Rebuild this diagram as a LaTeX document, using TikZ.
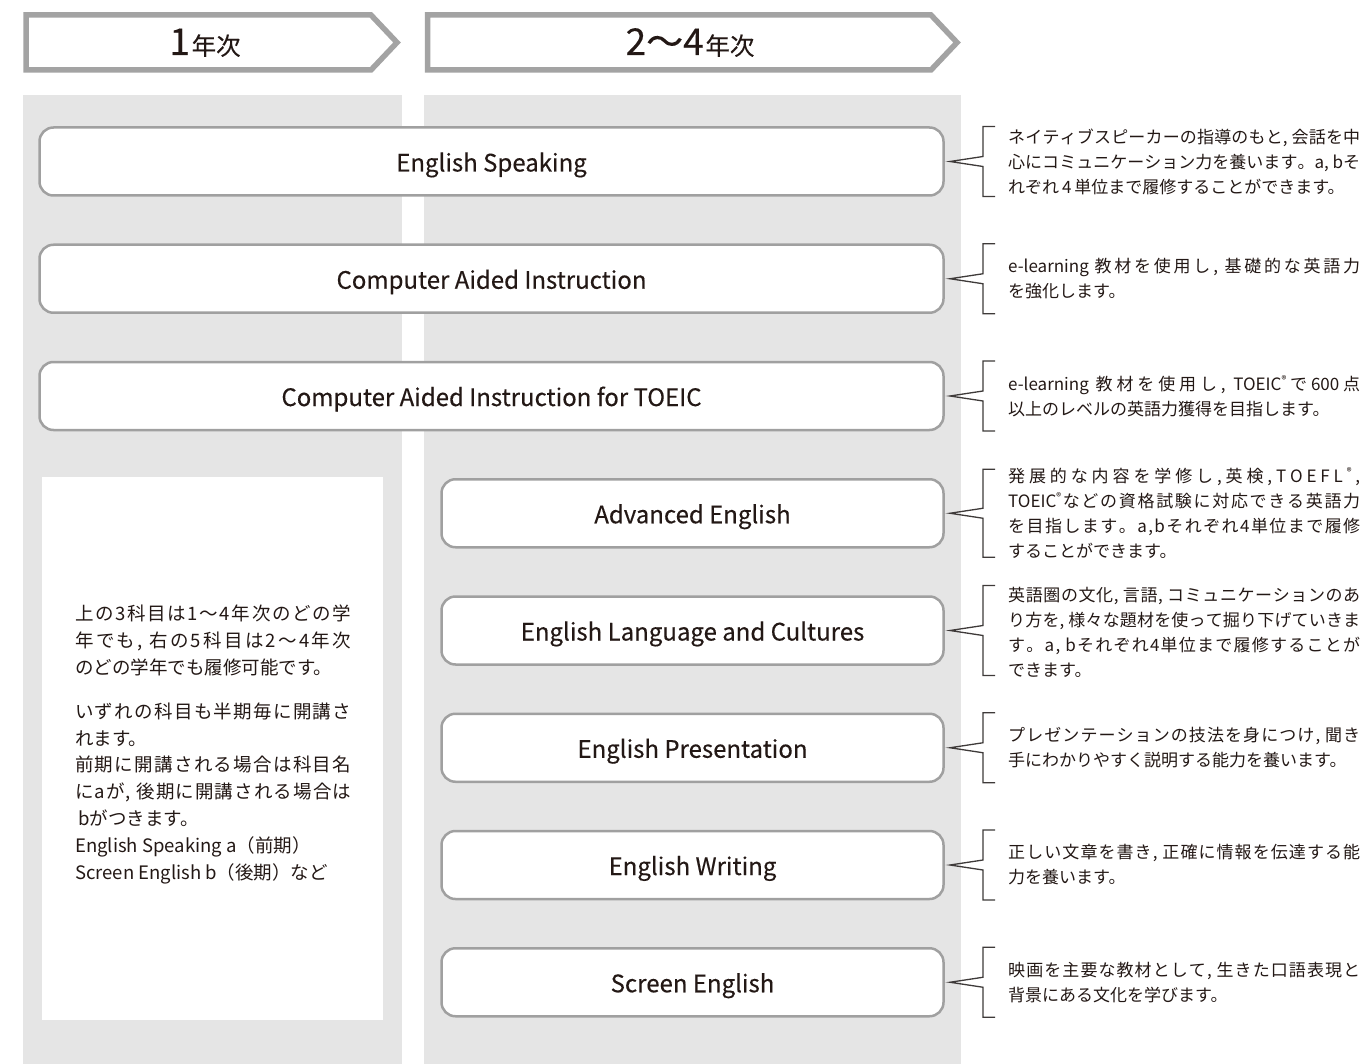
\documentclass[tikz,border=0pt]{standalone}
\usepackage{fontspec}
\setmainfont{Noto Sans CJK JP}
\newfontfamily\lblfont[FakeBold=0.25]{Noto Sans CJK JP}
\usetikzlibrary{calc}
\definecolor{colbg}{HTML}{E5E5E5}
\definecolor{hdrln}{HTML}{A3A3A3}
\definecolor{boxln}{HTML}{A0A0A0}
\definecolor{txt}{HTML}{231815}
\definecolor{brkc}{HTML}{3E3A39}
\makeatletter
\def\spr@end{\spr@end}
\def\spr@loop#1{\ifx\spr@end#1\else\hfil{#1}\expandafter\spr@loop\fi}
\def\spr@first#1{{#1}\spr@loop}
\newcommand\spreadto[2]{\makebox[#1][s]{\spr@first#2\spr@end}}
\makeatother
\newcommand\regmark{\raisebox{0.42em}{\fontsize{10}{10}\selectfont ®}}
\tikzset{
  hdrshape/.style={draw=hdrln, fill=white, line width=5.5pt, line join=miter},
  hdrtext/.style={anchor=base, inner sep=0pt, text=txt},
  cbox/.style={draw=boxln, fill=white, line width=2.5pt, rounded corners=14pt,
    outer sep=0pt, minimum height=68pt, text=txt,
    font=\lblfont\fontsize{24}{28}\selectfont, text height=24pt, text depth=4pt},
  widebox/.style={cbox, minimum width=904pt},
  narrowbox/.style={cbox, minimum width=502pt},
  desc/.style={anchor=west, inner sep=0pt, align=left, text=txt,
    font=\fontsize{17}{25}\selectfont},
  note/.style={anchor=north west, inner sep=0pt, align=left, text=txt,
    font=\fontsize{18.5}{26.8}\selectfont},
  brk/.style={draw=brkc, line width=1.3pt, line join=miter}
}
\begin{document}
\begin{tikzpicture}[x=1pt, y=-1pt]
\useasboundingbox (0,0) rectangle (1364,1064);
% columns
\fill[colbg] (23,95) rectangle (402,1064);
\fill[colbg] (424,95) rectangle (961,1064);
% headers
\draw[hdrshape] (26,15) -- (371,15) -- (397,42.5) -- (371,70) -- (26,70) -- cycle;
\draw[hdrshape] (427.5,15) -- (931,15) -- (957,42.5) -- (931,70) -- (427.5,70) -- cycle;
\node[hdrtext] (h1) at (205,55) {\lblfont{\fontsize{37}{37}\selectfont 1}\,{\fontsize{24.5}{24.5}\selectfont 年次}};
\node[hdrtext] (h2) at (690,55) {\lblfont{\fontsize{37}{37}\selectfont 2〜4}\,{\fontsize{24.5}{24.5}\selectfont 年次}};
% note box
\fill[white] (41.5,477) rectangle (383,1020);
\node[note] (nt) at (75,605) {%
\spreadto{276pt}{上の3科目は1〜4年次のどの学}\\
\spreadto{276pt}{年でも{, }右の5科目は2〜4年次}\\
のどの学年でも履修可能です。\\[17pt]
\spreadto{276pt}{いずれの科目も半期毎に開講さ}\\
れます。\\
\spreadto{276pt}{前期に開講される場合は科目名}\\
\spreadto{276pt}{にaが{, }後期に開講される場合は}\\
\,bがつきます。\\
English Speaking a（前期）\\
Screen English b（後期）など};
% boxes
\node[widebox] (b1) at (491.5,161.5) {English Speaking};
\node[widebox] (b2) at (491.5,278.75) {Computer Aided Instruction};
\node[widebox] (b3) at (491.5,396) {Computer Aided Instruction for TOEIC};
\node[narrowbox] (b4) at (692.5,513.25) {Advanced English};
\node[narrowbox] (b5) at (692.5,630.5) {English Language and Cultures};
\node[narrowbox] (b6) at (692.5,747.75) {English Presentation};
\node[narrowbox] (b7) at (692.5,865) {English Writing};
\node[narrowbox] (b8) at (692.5,982.25) {Screen English};
% brackets
\foreach \b/\h in {b1/35, b2/35, b3/35, b4/44, b5/45, b6/35, b7/35, b8/35} {
  \draw[brk] ($(\b.east)+(51.5,-\h)$) -- ++(-12,0) -- ++(0,{\h-5}) -- ++(-33,5)
    -- ++(33,5) -- ++(0,{\h-5}) -- ++(12,0);
}
% descriptions
\node[desc] (d1) at ($(b1.east)+(64.5,0)$) {%
\spreadto{352pt}{ネイティブスピーカーの指導のもと{, }会話を中}\\
\spreadto{352pt}{心にコミュニケーション力を養います。a{, }bそ}\\
れぞれ\,4\,単位まで履修することができます。};
\node[desc] (d2) at ($(b2.east)+(64.5,0)$) {%
\spreadto{352pt}{{e-learning\hspace{3pt}}教材を使用し{, }基礎的な英語力}\\
を強化します。};
\node[desc] (d3) at ($(b3.east)+(64.5,0)$) {%
\spreadto{352pt}{{e-learning\hspace{3pt}}教材を使用し{, }{TOEIC\regmark}で{600}点}\\
以上のレベルの英語力獲得を目指します。};
\node[desc] (d4) at ($(b4.east)+(64.5,0)$) {%
\spreadto{352pt}{発展的な内容を学修し,英検,TOEFL\regmark,}\\
\spreadto{352pt}{{TOEIC\regmark}などの資格試験に対応できる英語力}\\
\spreadto{352pt}{を目指します。a,bそれぞれ4単位まで履修}\\
することができます。};
\node[desc] (d5) at ($(b5.east)+(64.5,2)$) {%
\spreadto{352pt}{英語圏の文化{, }言語{, }コミュニケーションのあ}\\
\spreadto{352pt}{り方を{, }様々な題材を使って掘り下げていきま}\\
\spreadto{352pt}{す。a{, }bそれぞれ4単位まで履修することが}\\
できます。};
\node[desc] (d6) at ($(b6.east)+(64.5,0)$) {%
\spreadto{352pt}{プレゼンテーションの技法を身につけ{, }聞き}\\
手にわかりやすく説明する能力を養います。};
\node[desc] (d7) at ($(b7.east)+(64.5,0)$) {%
\spreadto{352pt}{正しい文章を書き{, }正確に情報を伝達する能}\\
力を養います。};
\node[desc] (d8) at ($(b8.east)+(64.5,0)$) {%
\spreadto{352pt}{映画を主要な教材として{, }生きた口語表現と}\\
背景にある文化を学びます。};
\end{tikzpicture}
\end{document}
